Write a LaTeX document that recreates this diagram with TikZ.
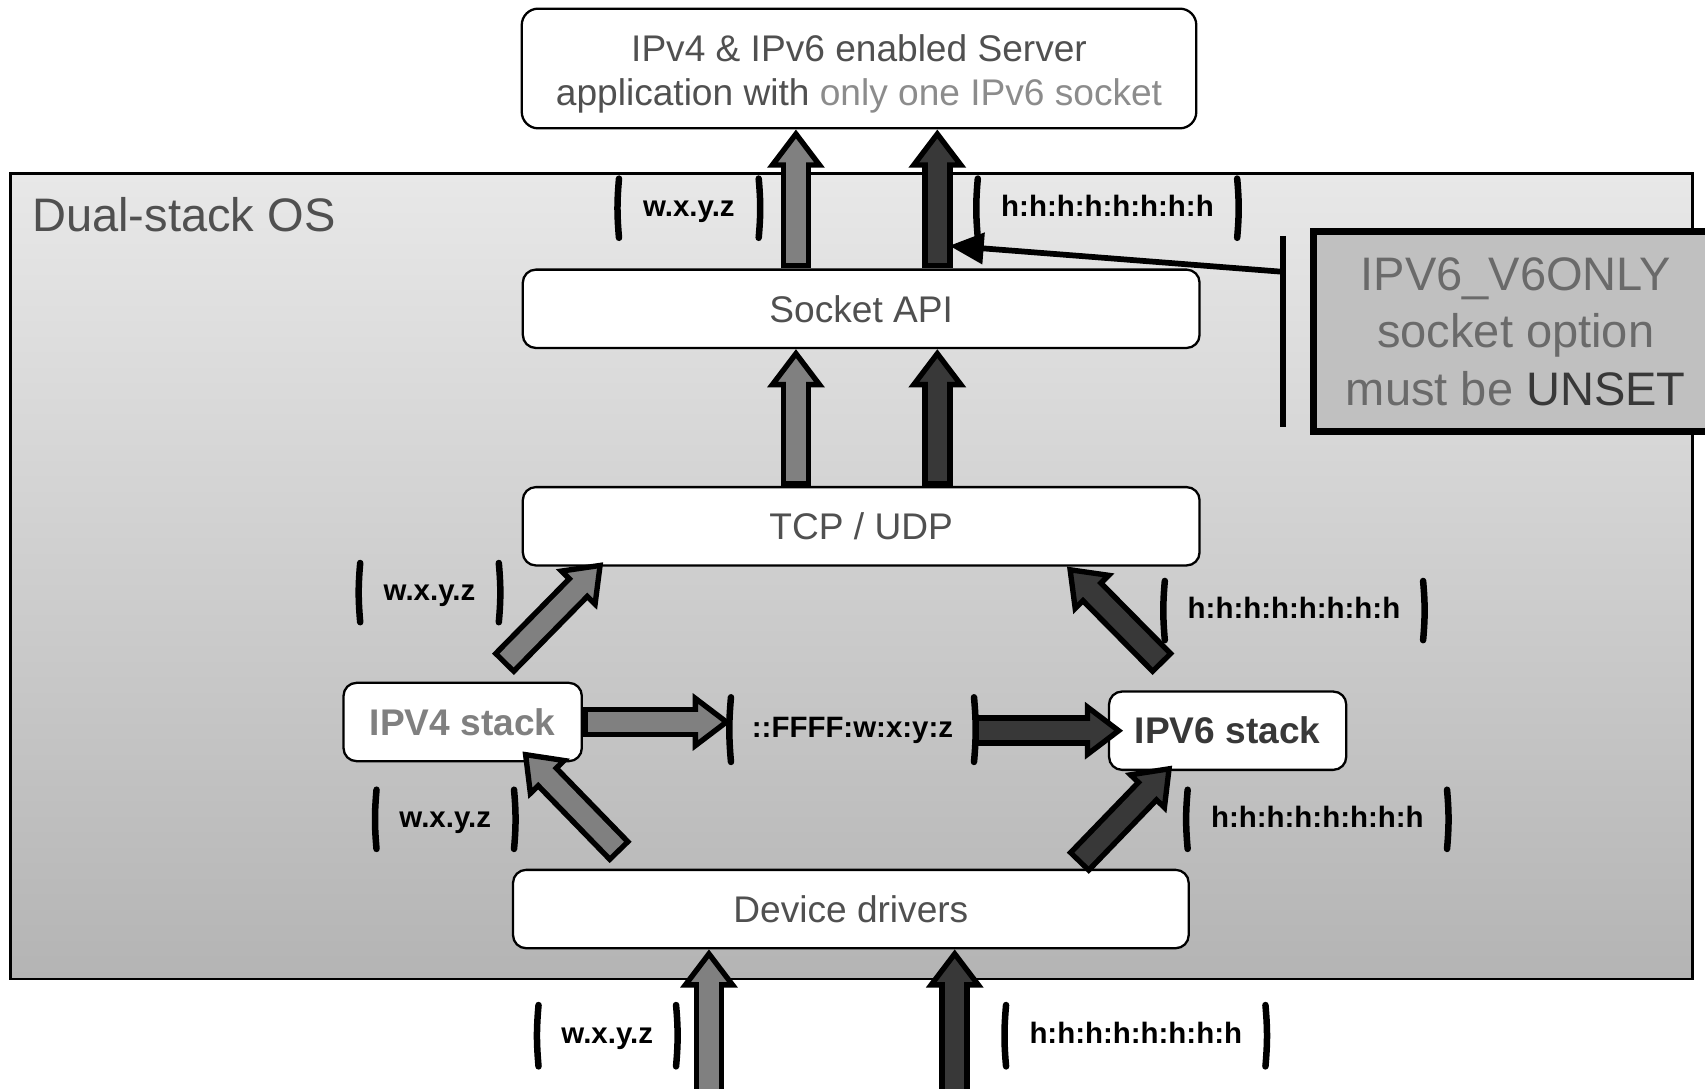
\documentclass[tikz,border=0pt]{standalone}
\usepackage{fontspec}
\setmainfont{Liberation Sans}
\usetikzlibrary{arrows.meta,calc}

\definecolor{vfourgray}{HTML}{808080}
\definecolor{vsixgray}{HTML}{383838}
\definecolor{txtgray}{HTML}{505050}
\definecolor{softgray}{HTML}{8C8C8C}
\definecolor{ostop}{HTML}{E8E8E8}
\definecolor{osbot}{HTML}{B4B4B4}
\definecolor{optfill}{HTML}{C0C0C0}

\begin{document}
\begin{tikzpicture}
  [x=0.01cm,y=-0.01cm,
   layer/.style={draw,line width=0.6pt,rounded corners=3.4pt,fill=white,text=txtgray,
     font=\fontsize{9.7}{11.4}\selectfont,minimum height=0.72cm,inner sep=0pt},
   stack/.style={layer,font=\bfseries\fontsize{9.7}{11.4}\selectfont},
   brk/.style={draw,line width=1.7pt,line cap=round},
   addr/.style={font=\bfseries\fontsize{7.7}{9}\selectfont,minimum height=0.53cm,inner sep=0pt,
     text height=5.6pt,text depth=1.4pt,
     append after command={(\tikzlastnode.north west) edge[brk,bend right=5] (\tikzlastnode.south west)
       (\tikzlastnode.north east) edge[brk,bend left=5] (\tikzlastnode.south east)}},
   shaft/.style={line width=8pt,line cap=butt,
     -{Triangle[length=10pt,width=14.8pt,line width=1.4pt,fill=#1]}},
   core/.style={draw=#1,line width=5.1pt,line cap=butt,shorten <=1.4pt,shorten >=8pt}]

  \clip (0,0) rectangle (1568,1001);

  % the OS frame
  \node[draw,line width=0.7pt,top color=ostop,bottom color=osbot,inner sep=0pt,
    minimum width=15.46cm,minimum height=7.40cm] (os) at (783,530) {};
  \node[anchor=west,inner sep=0pt,text=txtgray,font=\fontsize{12.3}{14}\selectfont] (ostitle) at (29,197) {Dual-stack OS};

  % layers
  \node[layer,minimum width=6.20cm,minimum height=1.10cm,rounded corners=4.3pt] (server) at (790,63)
    {\raisebox{-1.7pt}[\height][\depth]{\begin{tabular}{@{}c@{}}IPv4 \& IPv6 enabled Server\\
      application with \textcolor{softgray}{only one IPv6 socket}\end{tabular}}};
  \node[layer,minimum width=6.22cm] (socket) at (792,284) {Socket API};
  \node[layer,minimum width=6.22cm] (tcp) at (792,484) {TCP / UDP};
  \node[stack,text=vfourgray,minimum width=2.19cm] (v4stack) at (425.5,664) {IPV4 stack};
  \node[stack,text=vsixgray,minimum width=2.18cm] (v6stack) at (1129,672) {IPV6 stack};
  \node[layer,minimum width=6.21cm] (drivers) at (782.5,836) {Device drivers};

  % addresses
  \node[addr,minimum width=1.27cm] (top4) at (633.5,191.5) {w.x.y.z};
  \node[addr,minimum width=2.37cm] (top6) at (1018.5,191.5) {h:h:h:h:h:h:h:h};
  \node[addr,minimum width=1.26cm] (mid4) at (395,545) {w.x.y.z};
  \node[addr,minimum width=2.36cm] (mid6) at (1190,561.5) {h:h:h:h:h:h:h:h};
  \node[addr,minimum width=2.22cm,minimum height=0.58cm] (mapped) at (784,671) {::FFFF:w:x:y:z};
  \node[addr,minimum width=1.25cm] (low4) at (409.5,753.5) {w.x.y.z};
  \node[addr,minimum width=2.37cm] (low6) at (1211.5,753.5) {h:h:h:h:h:h:h:h};
  \node[addr,minimum width=1.25cm,minimum height=0.55cm] (wire4) at (558.5,952.5) {w.x.y.z};
  \node[addr,minimum width=2.37cm,minimum height=0.55cm] (wire6) at (1044.5,952.5) {h:h:h:h:h:h:h:h};

  % socket option
  \node[draw,line width=1.8pt,fill=optfill,text=txtgray!85,align=center,inner sep=0pt,
    font=\fontsize{12.3}{15}\selectfont,minimum width=3.72cm,minimum height=1.84cm] (v6only) at (1394,305)
    {IPV6\_V6ONLY\\socket option\\must be \textcolor{vsixgray}{UNSET}};
  \coordinate (bartop) at (1180,217);
  \coordinate (barbot) at (1180,393);
  \coordinate (barmid) at (1180,250);
  \draw[line width=1.7pt] (bartop) -- (barbot);

  % arrow ends
  \coordinate (c4) at (732,0);
  \coordinate (c6) at (862,0);
  \coordinate (sock4) at (socket.north -| c4);
  \coordinate (sock6) at (socket.north -| c6);
  \coordinate (srv4) at (server.south -| c4);
  \coordinate (srv6) at (server.south -| c6);
  \coordinate (tcp4) at (tcp.north -| c4);
  \coordinate (tcp6) at (tcp.north -| c6);
  \coordinate (sockb4) at (socket.south -| c4);
  \coordinate (sockb6) at (socket.south -| c6);
  \coordinate (up4) at ($(v4stack.north)+(37,-16)$);
  \coordinate (up6) at ($(v6stack.north)+(-59,-24)$);
  \coordinate (to4) at ($(tcp.south west)+(75,-4)$);
  \coordinate (to6) at ($(tcp.south east)+(-123,0)$);
  \coordinate (map4) at (v4stack.east -| mapped.west);
  \coordinate (map6) at (mapped.east |- v6stack.west);
  \coordinate (in6w) at ($(v6stack.west)+(14,0)$);
  \coordinate (dn4) at ($(drivers.north west)+(100,-15)$);
  \coordinate (dn6) at ($(drivers.north east)+(-103,-5)$);
  \coordinate (at4) at ($(v4stack.south)+(55,-10)$);
  \coordinate (at6) at ($(v6stack.south)+(-51,-5)$);
  \coordinate (in4) at (652,1010);
  \coordinate (in6) at (878,1010);
  \coordinate (drv4) at (drivers.south -| in4);
  \coordinate (drv6) at (drivers.south -| in6);

  \foreach \from/\to/\col in {sock4/srv4/vfourgray,sock6/srv6/vsixgray,
      tcp4/sockb4/vfourgray,tcp6/sockb6/vsixgray,up4/to4/vfourgray,up6/to6/vsixgray,
      v4stack.east/map4/vfourgray,map6/in6w/vsixgray,dn4/at4/vfourgray,dn6/at6/vsixgray,
      in4/drv4/vfourgray,in6/drv6/vsixgray}
  {
    \draw[shaft=\col] (\from) -- (\to);
    \draw[core=\col] (\from) -- (\to);
  }

  \coordinate (hit) at (873,226);
  \draw[line width=1.5pt,-{Triangle[length=9pt,width=8pt]}] (barmid) -- (hit);
\end{tikzpicture}
\end{document}
